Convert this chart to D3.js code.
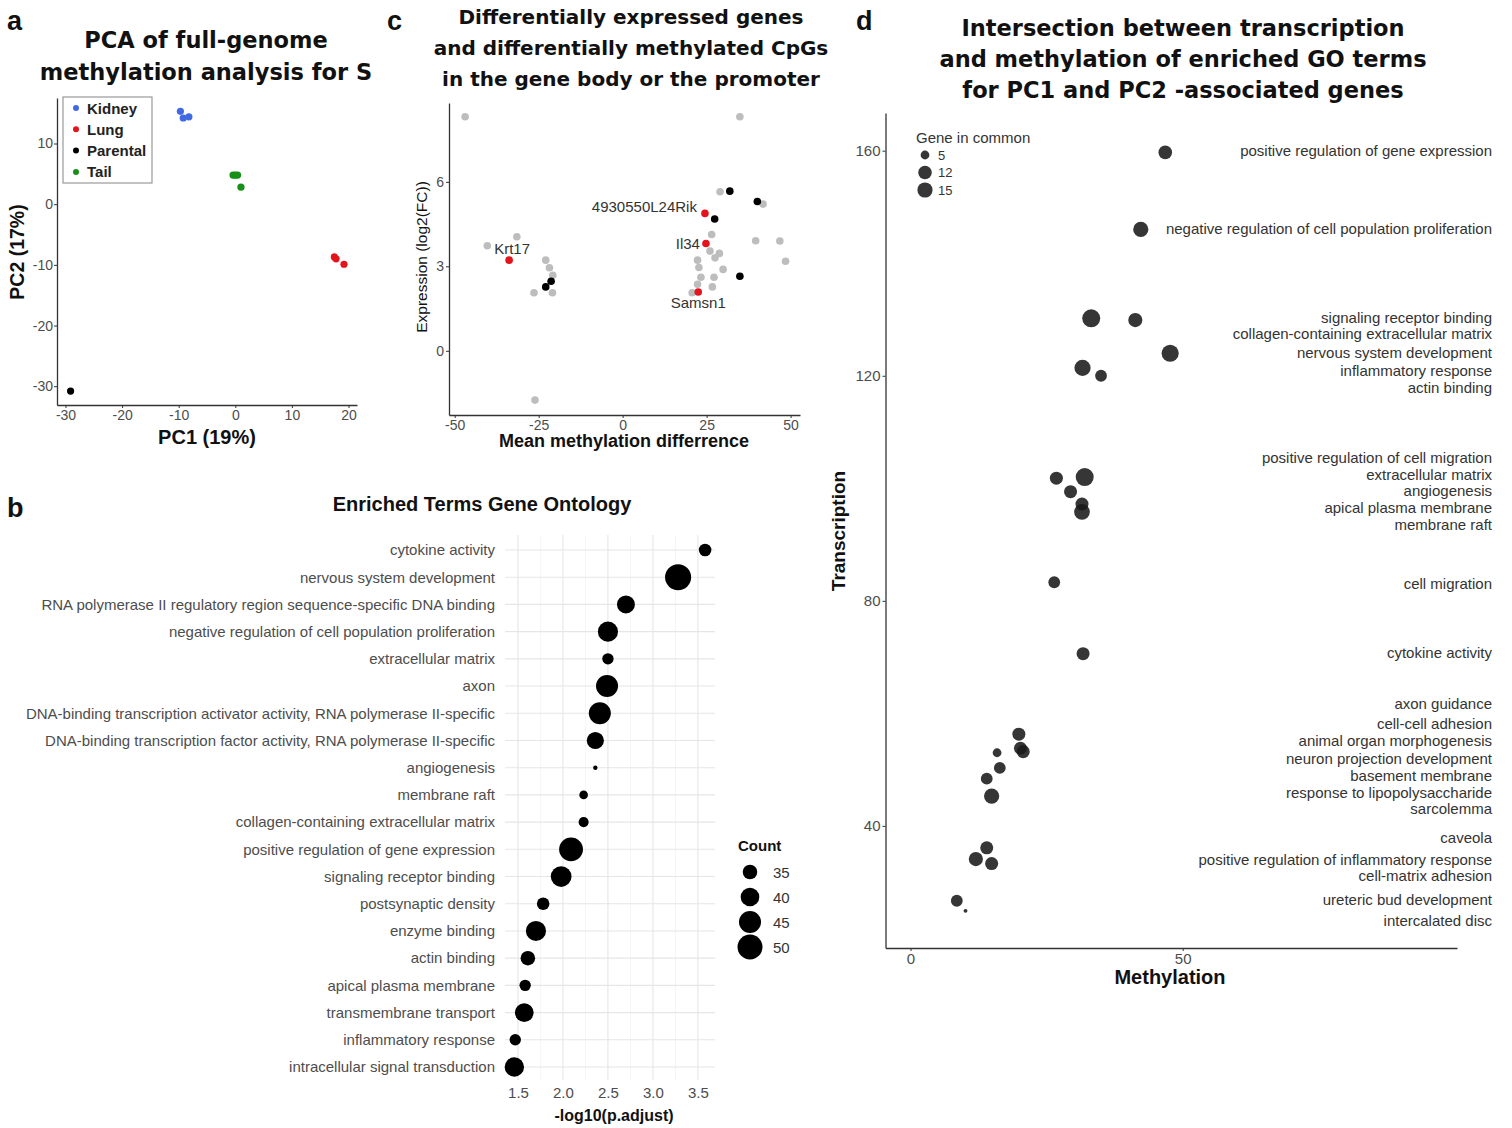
<!DOCTYPE html>
<html>
<head>
<meta charset="utf-8">
<script src="https://cdn.jsdelivr.net/npm/d3@7"></script>
<style>
  body { margin: 0; background: #fff; }
  svg { display: block; }
  text { font-family: "Liberation Sans", Arial, sans-serif; }
</style>
</head>
<body>
<script>
// ---- panel a: PCA
const pcaGroups = ["Kidney", "Lung", "Parental", "Tail"];
const pcaColors = ["#4169e1", "#e3141c", "#000000", "#169016"];
const pcaGroup = ["Kidney", "Kidney", "Kidney", "Tail", "Tail", "Tail", "Tail", "Lung", "Lung", "Lung", "Parental"];
const pcaPC1 = [-9.7, -9.2, -8.2, -0.4, 0.0, 0.4, 1.0, 17.5, 17.8, 19.2, -29.1];
const pcaPC2 = [15.3, 14.2, 14.4, 4.8, 4.8, 4.8, 2.8, -8.7, -9.0, -9.9, -30.8];
const pcaXTicks = [-30, -20, -10, 0, 10, 20];
const pcaYTicks = [-30, -20, -10, 0, 10];

// ---- panel c: expression vs methylation
const degMeth = [-46.9, 34.9, -40.3, -31.5, -22.9, -21.8, -20.8, -26.4, -20.9, -26.1,
  29.0, 41.8, 26.5, 39.6, 46.8, 48.5, 26.0, 28.8, 27.5, 22.3, 22.7, 29.9, 23.3, 27.2, 22.3, 26.7, 20.7,
  -22.9, -21.3, 31.9, 40.1, 27.4, 34.9,
  -33.8, 24.5, 24.8, 22.5];
const degExpr = [8.31, 8.31, 3.73, 4.05, 3.22, 2.95, 2.68, 2.06, 2.06, -1.75,
  5.65, 5.21, 4.13, 3.91, 3.90, 3.18, 3.54, 3.46, 3.30, 3.22, 2.96, 2.89, 2.61, 2.61, 2.36, 2.27, 2.06,
  2.27, 2.47, 5.67, 5.30, 4.68, 2.65,
  3.22, 4.88, 3.81, 2.09];
const degType = [
  "other", "other", "other", "other", "other", "other", "other", "other", "other", "other",
  "other", "other", "other", "other", "other", "other", "other", "other", "other", "other",
  "other", "other", "other", "other", "other", "other", "other",
  "both", "both", "both", "both", "both", "both",
  "hit", "hit", "hit", "hit"];
const degName = ["", "", "", "", "", "", "", "", "", "", "", "", "", "", "", "", "", "", "", "",
  "", "", "", "", "", "", "", "", "", "", "", "", "",
  "Krt17", "4930550L24Rik", "Il34", "Samsn1"];
const degXTicks = [-50, -25, 0, 25, 50];
const degYTicks = [0, 3, 6];

// ---- panel b: GO enrichment
const goTerms = ["cytokine activity", "nervous system development",
  "RNA polymerase II regulatory region sequence-specific DNA binding",
  "negative regulation of cell population proliferation", "extracellular matrix", "axon",
  "DNA-binding transcription activator activity, RNA polymerase II-specific",
  "DNA-binding transcription factor activity, RNA polymerase II-specific",
  "angiogenesis", "membrane raft", "collagen-containing extracellular matrix",
  "positive regulation of gene expression", "signaling receptor binding", "postsynaptic density",
  "enzyme binding", "actin binding", "apical plasma membrane", "transmembrane transport",
  "inflammatory response", "intracellular signal transduction"];
const goLogP = [3.58, 3.28, 2.70, 2.50, 2.50, 2.49, 2.41, 2.36, 2.36, 2.23,
  2.23, 2.09, 1.98, 1.78, 1.70, 1.61, 1.58, 1.57, 1.47, 1.46];
const goCount = [33, 52, 39, 42, 32, 45, 45, 38, 28, 30, 31, 48, 43, 33, 42, 35, 32, 40, 32, 41];
const goXTicks = [1.5, 2.0, 2.5, 3.0, 3.5];
const countBreaks = [35, 40, 45, 50];

// ---- panel d: transcription vs methylation
const dMeth = [46.8, 42.3, 33.2, 41.3, 47.7, 31.6, 35.0, 26.8, 32.0, 29.4, 31.5, 31.5, 26.4,
  31.7, 19.9, 20.2, 20.7, 15.9, 16.4, 14.0, 14.9, 14.0, 12.0, 14.9, 8.5, 10.1];
const dTrans = [159.7, 146.0, 130.2, 129.9, 124.0, 121.4, 120.0, 101.8, 102.0, 99.4, 97.2, 95.8, 83.3,
  70.6, 56.3, 53.8, 53.2, 53.0, 50.3, 48.4, 45.3, 36.1, 34.1, 33.3, 26.7, 24.9];
const dGenes = [12, 15, 21, 13, 19, 17, 9, 11, 21, 11, 11, 16, 9, 11, 11, 11, 11, 5, 9, 9, 15, 11, 13, 11, 9, 1];
const dTerms = ["positive regulation of gene expression", "negative regulation of cell population proliferation",
  "signaling receptor binding", "collagen-containing extracellular matrix", "nervous system development",
  "inflammatory response", "actin binding", "positive regulation of cell migration", "extracellular matrix",
  "angiogenesis", "apical plasma membrane", "membrane raft", "cell migration", "cytokine activity",
  "axon guidance", "cell-cell adhesion", "animal organ morphogenesis", "neuron projection development",
  "basement membrane", "response to lipopolysaccharide", "sarcolemma", "caveola",
  "positive regulation of inflammatory response", "cell-matrix adhesion", "ureteric bud development",
  "intercalated disc"];
const dTermY = [160.1, 146.1, 130.4, 127.6, 124.2, 121.0, 118.0, 105.4, 102.5, 99.6, 96.6, 93.6, 83.0,
  70.9, 61.8, 58.2, 55.1, 52.0, 48.9, 46.0, 43.1, 37.9, 34.0, 31.1, 27.0, 23.2];
const geneBreaks = [5, 12, 15];
const dXTicks = [0, 50];
const dYTicks = [40, 80, 120, 160];

const W = 1512, H = 1128;
const svg = d3.select("body").append("svg").attr("width", W).attr("height", H);
svg.append("rect").attr("width", W).attr("height", H).attr("fill", "#fff");

function styleAxis(g, size, line = true) {
  g.select(".domain").attr("stroke", line ? "#333" : "none").attr("stroke-width", 1.3);
  g.selectAll(".tick line").attr("stroke", "#333");
  g.selectAll(".tick text")
    .attr("fill", "#4d4d4d")
    .style("font-size", size + "px")
    .style("font-family", "Liberation Sans, Arial, sans-serif");
}

function titleLines(lines, cx, y0, step, size) {
  svg.append("g").selectAll("text").data(lines).enter().append("text")
    .attr("x", cx).attr("y", (d, i) => y0 + i * step)
    .attr("text-anchor", "middle")
    .style("font-family", "DejaVu Sans, sans-serif")
    .style("font-weight", "bold").style("font-size", size + "px")
    .attr("fill", "#111").text((d) => d);
}

function panelLetter(t, x, y) {
  svg.append("text").attr("x", x).attr("y", y).text(t)
    .style("font-weight", "bold").style("font-size", "27px").attr("fill", "#111");
}

function axisTitle(t, x, y, size, rotate, weight = "bold") {
  svg.append("text")
    .attr("transform", `translate(${x},${y})` + (rotate ? " rotate(-90)" : ""))
    .attr("text-anchor", "middle").attr("dominant-baseline", "central")
    .style("font-weight", weight).style("font-size", size + "px")
    .attr("fill", "#111").text(t);
}

// ================= panel a =================
panelLetter("a", 7, 30);
titleLines(["PCA of full-genome", "methylation analysis for S"], 206, 48, 32, 22.5);

const ax = d3.scaleLinear().domain([-31.5, 21.5]).range([57, 357]);
const ay = d3.scaleLinear().domain([-33.1, 17.5]).range([405, 98]);
const acol = d3.scaleOrdinal().domain(pcaGroups).range(pcaColors);

svg.append("g").attr("transform", "translate(0,405)")
  .call(d3.axisBottom(ax).tickValues(pcaXTicks).tickFormat((d) => String(d)).tickSize(3).tickSizeOuter(0).tickPadding(2))
  .call((g) => styleAxis(g, 14));
svg.append("g").attr("transform", "translate(57,0)")
  .call(d3.axisLeft(ay).tickValues(pcaYTicks).tickFormat((d) => String(d)).tickSize(3).tickSizeOuter(0).tickPadding(1))
  .call((g) => styleAxis(g, 14));

svg.append("g").selectAll("circle").data(pcaPC1).enter().append("circle")
  .attr("cx", (d) => ax(d))
  .attr("cy", (d, i) => ay(pcaPC2[i]))
  .attr("r", 3.6)
  .attr("fill", (d, i) => acol(pcaGroup[i]));

axisTitle("PC1 (19%)", 207, 437, 20, false);
axisTitle("PC2 (17%)", 17, 252, 19.5, true);

const aleg = svg.append("g");
aleg.append("rect").attr("x", 63).attr("y", 97).attr("width", 89).attr("height", 86)
  .attr("fill", "#fff").attr("stroke", "#999").attr("stroke-width", 1.2);
const aitem = aleg.selectAll("g.item").data(pcaGroups).enter().append("g")
  .attr("transform", (d, i) => `translate(0,${108 + i * 21.3})`);
aitem.append("circle").attr("cx", 76).attr("r", 3).attr("fill", (d) => acol(d));
aitem.append("text").attr("x", 87).attr("dominant-baseline", "central")
  .style("font-weight", "bold").style("font-size", "15px").attr("fill", "#222").text((d) => d);

// ================= panel c =================
panelLetter("c", 387, 30);
titleLines(["Differentially expressed genes", "and differentially methylated CpGs", "in the gene body or the promoter"], 631, 24, 31, 20);

const cx = d3.scaleLinear().domain([-51.7, 52.8]).range([449, 800]);
const cy = d3.scaleLinear().domain([-2.28, 8.8]).range([415, 103]);
const ccol = d3.scaleOrdinal().domain(["other", "both", "hit"]).range(["#bdbdbd", "#000000", "#e3141c"]);

svg.append("g").attr("transform", "translate(0,415)")
  .call(d3.axisBottom(cx).tickValues(degXTicks).tickFormat((d) => String(d)).tickSize(3).tickSizeOuter(0).tickPadding(2))
  .call((g) => styleAxis(g, 14));
svg.append("g").attr("transform", "translate(449,0)")
  .call(d3.axisLeft(cy).tickValues(degYTicks).tickSize(3).tickSizeOuter(0).tickPadding(2))
  .call((g) => styleAxis(g, 14));

const cidx = d3.range(degMeth.length);
svg.append("g").selectAll("circle").data(cidx).enter().append("circle")
  .attr("cx", (i) => cx(degMeth[i]))
  .attr("cy", (i) => cy(degExpr[i]))
  .attr("r", 3.8)
  .attr("fill", (i) => ccol(degType[i]));

// label placement beside each highlighted gene
const labelPos = {
  "Krt17": { anchor: "middle", dx: 3, dy: -6 },
  "4930550L24Rik": { anchor: "end", dx: -8, dy: -1 },
  "Il34": { anchor: "end", dx: -6, dy: 5 },
  "Samsn1": { anchor: "middle", dx: 0, dy: 16 },
};
svg.append("g").selectAll("text").data(cidx.filter((i) => degName[i])).enter().append("text")
  .attr("x", (i) => cx(degMeth[i]) + labelPos[degName[i]].dx)
  .attr("y", (i) => cy(degExpr[i]) + labelPos[degName[i]].dy)
  .attr("text-anchor", (i) => labelPos[degName[i]].anchor)
  .style("font-size", "15px").attr("fill", "#333")
  .text((i) => degName[i]);

axisTitle("Mean methylation differrence", 624, 441, 18, false);
axisTitle("Expression (log2(FC))", 421, 257, 15.5, true, "normal");

// ================= panel b =================
panelLetter("b", 7, 517);
svg.append("text").attr("x", 482).attr("y", 511).attr("text-anchor", "middle")
  .style("font-weight", "bold").style("font-size", "20px").attr("fill", "#111")
  .text("Enriched Terms Gene Ontology");

const bx = d3.scaleLinear().domain([1.356, 3.69]).range([505, 715]);
const by = d3.scalePoint().domain(goTerms).range([550, 1067]);
const barea = d3.scaleLinear().domain([27.3, 50]).range([0, 156]);
const br = (c) => Math.sqrt(barea(c));

const bgrid = svg.append("g");
bgrid.selectAll("line.v").data(d3.range(1.5, 3.51, 0.25)).enter().append("line")
  .attr("x1", (d) => bx(d)).attr("x2", (d) => bx(d))
  .attr("y1", 535).attr("y2", 1080)
  .attr("stroke", (d) => (Math.round(d * 4) % 2 === 0 ? "#e6e6e6" : "#f1f1f1"))
  .attr("stroke-width", (d) => (Math.round(d * 4) % 2 === 0 ? 1.1 : 0.7));
bgrid.selectAll("line.h").data(goTerms).enter().append("line")
  .attr("x1", 505).attr("x2", 715)
  .attr("y1", (d) => by(d)).attr("y2", (d) => by(d))
  .attr("stroke", "#e6e6e6").attr("stroke-width", 1.1);

svg.append("g").attr("transform", "translate(0,1080)")
  .call(d3.axisBottom(bx).tickValues(goXTicks).tickFormat(d3.format(".1f")).tickSize(0).tickPadding(7))
  .call((g) => styleAxis(g, 15, false));
svg.append("g").attr("transform", "translate(505,0)")
  .call(d3.axisLeft(by).tickSize(0).tickPadding(10))
  .call((g) => styleAxis(g, 15, false));

svg.append("g").selectAll("circle").data(goTerms).enter().append("circle")
  .attr("cx", (d, i) => bx(goLogP[i]))
  .attr("cy", (d) => by(d))
  .attr("r", (d, i) => br(goCount[i]))
  .attr("fill", "#000");

axisTitle("-log10(p.adjust)", 614, 1115, 16, false);

const bleg = svg.append("g");
bleg.append("text").attr("x", 738).attr("y", 845).attr("dominant-baseline", "central")
  .style("font-weight", "bold").style("font-size", "15px").attr("fill", "#111").text("Count");
const bitem = bleg.selectAll("g.item").data(countBreaks).enter().append("g")
  .attr("transform", (d, i) => `translate(0,${872 + i * 25})`);
bitem.append("circle").attr("cx", 750).attr("r", (d) => br(d)).attr("fill", "#000");
bitem.append("text").attr("x", 773).attr("dominant-baseline", "central")
  .style("font-size", "15px").attr("fill", "#333").text((d) => d);

// ================= panel d =================
panelLetter("d", 856, 30);
titleLines(["Intersection between transcription", "and methylation of enriched GO terms", "for PC1 and PC2 -associated genes"], 1183, 36, 31, 22.5);

const dx = d3.scaleLinear().domain([-4.6, 100.4]).range([885.5, 1457]);
const dy = d3.scaleLinear().domain([18.3, 166.7]).range([948, 113]);
const dr = d3.scaleSqrt().domain([0, 21]).range([0, 9]);

svg.append("g").attr("transform", "translate(0,948)")
  .call(d3.axisBottom(dx).tickValues(dXTicks).tickSize(3).tickSizeOuter(0).tickPadding(2))
  .call((g) => styleAxis(g, 15));
svg.append("g").attr("transform", "translate(885.5,0)")
  .call(d3.axisLeft(dy).tickValues(dYTicks).tickSize(3).tickSizeOuter(0).tickPadding(2))
  .call((g) => styleAxis(g, 15));

svg.append("g").selectAll("circle").data(dMeth).enter().append("circle")
  .attr("cx", (d) => dx(d))
  .attr("cy", (d, i) => dy(dTrans[i]))
  .attr("r", (d, i) => dr(dGenes[i]))
  .attr("fill", "#1a1a1a").attr("fill-opacity", 0.88);

svg.append("g").selectAll("text").data(dTerms).enter().append("text")
  .attr("x", W - 20)
  .attr("y", (d, i) => dy(dTermY[i]))
  .attr("text-anchor", "end").attr("dominant-baseline", "central")
  .style("font-size", "15px").attr("fill", "#333")
  .text((d) => d);

axisTitle("Methylation", 1170, 977, 20, false);
axisTitle("Transcription", 838, 531, 19, true);

const dleg = svg.append("g");
dleg.append("text").attr("x", 916).attr("y", 137).attr("dominant-baseline", "central")
  .style("font-size", "15px").attr("fill", "#333").text("Gene in common");
const ditem = dleg.selectAll("g.item").data(geneBreaks).enter().append("g")
  .attr("transform", (d, i) => `translate(0,${155 + i * 17.5})`);
ditem.append("circle").attr("cx", 925).attr("r", (d) => dr(d)).attr("fill", "#1a1a1a").attr("fill-opacity", 0.88);
ditem.append("text").attr("x", 938).attr("dominant-baseline", "central")
  .style("font-size", "13px").attr("fill", "#333").text((d) => d);
</script>
</body>
</html>
